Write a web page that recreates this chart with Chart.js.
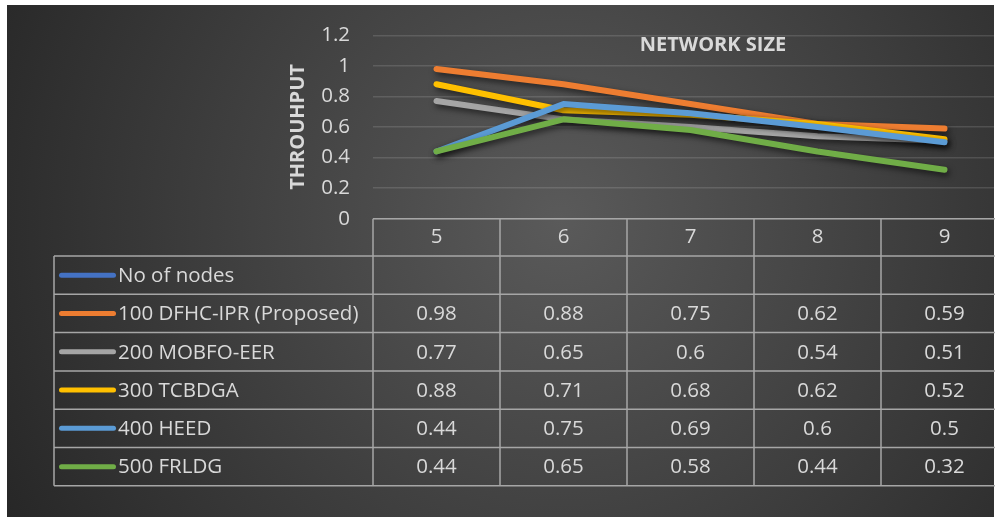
<!DOCTYPE html>
<html>
<head>
<meta charset="utf-8">
<script src="https://cdn.jsdelivr.net/npm/chart.js@4"></script>
<style>
  html, body { margin: 0; padding: 0; background: #ffffff; overflow: hidden; }
  #chart { position: absolute; left: 0; top: 0; }
</style>
</head>
<body>
<canvas id="chart" width="1012" height="517"></canvas>
<script>
// data
const categories = ['5', '6', '7', '8', '9'];
const seriesNames = ['No of nodes', '100 DFHC-IPR (Proposed)', '200 MOBFO-EER', '300 TCBDGA', '400 HEED', '500 FRLDG'];
const noOfNodes = [null, null, null, null, null];
const dfhcIpr = [0.98, 0.88, 0.75, 0.62, 0.59];
const mobfoEer = [0.77, 0.65, 0.6, 0.54, 0.51];
const tcbdga = [0.88, 0.71, 0.68, 0.62, 0.52];
const heed = [0.44, 0.75, 0.69, 0.6, 0.5];
const frldg = [0.44, 0.65, 0.58, 0.44, 0.32];
const seriesColors = ['#4472c4', '#ed7d31', '#a5a5a5', '#ffc000', '#5b9bd5', '#70ad47'];
const yMin = 0, yMax = 1.2, yStep = 0.2;

const allSeries = [noOfNodes, dfhcIpr, mobfoEer, tcbdga, heed, frldg];
const textColor = '#d9d9d9';
const fontFamily = '"Open Sans", "Liberation Sans", sans-serif';

const background = {
    id: 'background',
    beforeDraw(chart) {
        const ctx = chart.ctx;
        ctx.save();
        ctx.fillStyle = '#ffffff';
        ctx.fillRect(0, 0, chart.width, chart.height);
        const g = ctx.createRadialGradient(560, 220, 0, 560, 220, 640);
        g.addColorStop(0, '#5a5a5a');
        g.addColorStop(1, '#262626');
        ctx.fillStyle = g;
        ctx.fillRect(7, 5, 987, 512);
        ctx.restore();
    }
};

const lineShadow = {
    id: 'lineShadow',
    beforeDatasetDraw(chart) {
        const ctx = chart.ctx;
        ctx.save();
        ctx.shadowColor = 'rgba(0,0,0,0.6)';
        ctx.shadowBlur = 6;
        ctx.shadowOffsetX = 2;
        ctx.shadowOffsetY = 3;
    },
    afterDatasetDraw(chart) {
        chart.ctx.restore();
    }
};

// chart title sits inside the plot area
const innerTitle = {
    id: 'innerTitle',
    afterDraw(chart) {
        const ctx = chart.ctx;
        ctx.save();
        ctx.fillStyle = textColor;
        ctx.font = 'bold 20px ' + fontFamily;
        ctx.textAlign = 'center';
        ctx.textBaseline = 'middle';
        ctx.fillText('NETWORK SIZE', 713, 45);
        ctx.restore();
    }
};

// data table under the plot, columns follow the x scale
const dataTable = {
    id: 'dataTable',
    afterDraw(chart) {
        const ctx = chart.ctx;
        const x = chart.scales.x;
        const area = chart.chartArea;
        const half = (x.getPixelForValue(1) - x.getPixelForValue(0)) / 2;
        const top = area.bottom;
        const headH = 37.3;
        const rowH = 38.3;
        const headBottom = top + headH;
        const bottom = headBottom + rowH * seriesNames.length;
        const legendLeft = 54;
        const right = chart.width;

        ctx.save();
        ctx.strokeStyle = '#a6a6a6';
        ctx.lineWidth = 1.5;
        ctx.beginPath();
        ctx.moveTo(area.left, top);
        ctx.lineTo(right, top);
        for (let r = 0; r <= seriesNames.length; r++) {
            const yy = headBottom + r * rowH;
            ctx.moveTo(legendLeft, yy);
            ctx.lineTo(right, yy);
        }
        ctx.moveTo(legendLeft, headBottom);
        ctx.lineTo(legendLeft, bottom);
        categories.forEach((c, i) => {
            const xx = x.getPixelForValue(i) - half;
            ctx.moveTo(xx, top);
            ctx.lineTo(xx, bottom);
        });
        ctx.stroke();

        ctx.fillStyle = textColor;
        ctx.font = '20.5px ' + fontFamily;
        ctx.textBaseline = 'middle';
        ctx.textAlign = 'center';
        categories.forEach((c, i) => {
            ctx.fillText(c, x.getPixelForValue(i), top + headH / 2);
        });

        seriesNames.forEach((name, r) => {
            const cy = headBottom + r * rowH + rowH / 2;
            ctx.strokeStyle = seriesColors[r];
            ctx.lineWidth = 5;
            ctx.lineCap = 'round';
            ctx.beginPath();
            ctx.moveTo(61.5, cy);
            ctx.lineTo(113.5, cy);
            ctx.stroke();
            ctx.textAlign = 'left';
            ctx.fillText(name, 118, cy + 1);
            ctx.textAlign = 'center';
            allSeries[r].forEach((v, i) => {
                if (v !== null) ctx.fillText(String(v), x.getPixelForValue(i), cy + 1);
            });
        });
        ctx.restore();
    }
};

new Chart(document.getElementById('chart'), {
    type: 'line',
    data: {
        labels: categories,
        datasets: seriesNames.map((name, i) => ({
            label: name,
            data: allSeries[i],
            borderColor: seriesColors[i],
            backgroundColor: seriesColors[i],
            borderWidth: 6,
            borderCapStyle: 'round',
            borderJoinStyle: 'round',
            pointRadius: 0,
            tension: 0,
            order: seriesNames.length - i
        }))
    },
    options: {
        responsive: false,
        animation: false,
        layout: { padding: { left: 280, right: 4, top: 31, bottom: 298.3 } },
        plugins: {
            legend: { display: false },
            tooltip: { enabled: false }
        },
        scales: {
            x: {
                display: false,
                offset: true
            },
            y: {
                min: yMin,
                max: yMax,
                afterFit(scale) { scale.width = 93; },
                border: { display: false },
                grid: {
                    color: 'rgba(255,255,255,0.13)',
                    lineWidth: 1.5,
                    drawTicks: false
                },
                ticks: {
                    stepSize: yStep,
                    padding: 23,
                    color: textColor,
                    font: { family: fontFamily, size: 20.5 },
                    callback: (v) => String(Number(v.toFixed(1)))
                },
                title: {
                    display: true,
                    text: 'THROUHPUT',
                    color: textColor,
                    padding: { top: 6, bottom: 0 },
                    font: { family: fontFamily, size: 20, weight: 'bold' }
                }
            }
        }
    },
    plugins: [background, lineShadow, innerTitle, dataTable]
});
</script>
</body>
</html>
